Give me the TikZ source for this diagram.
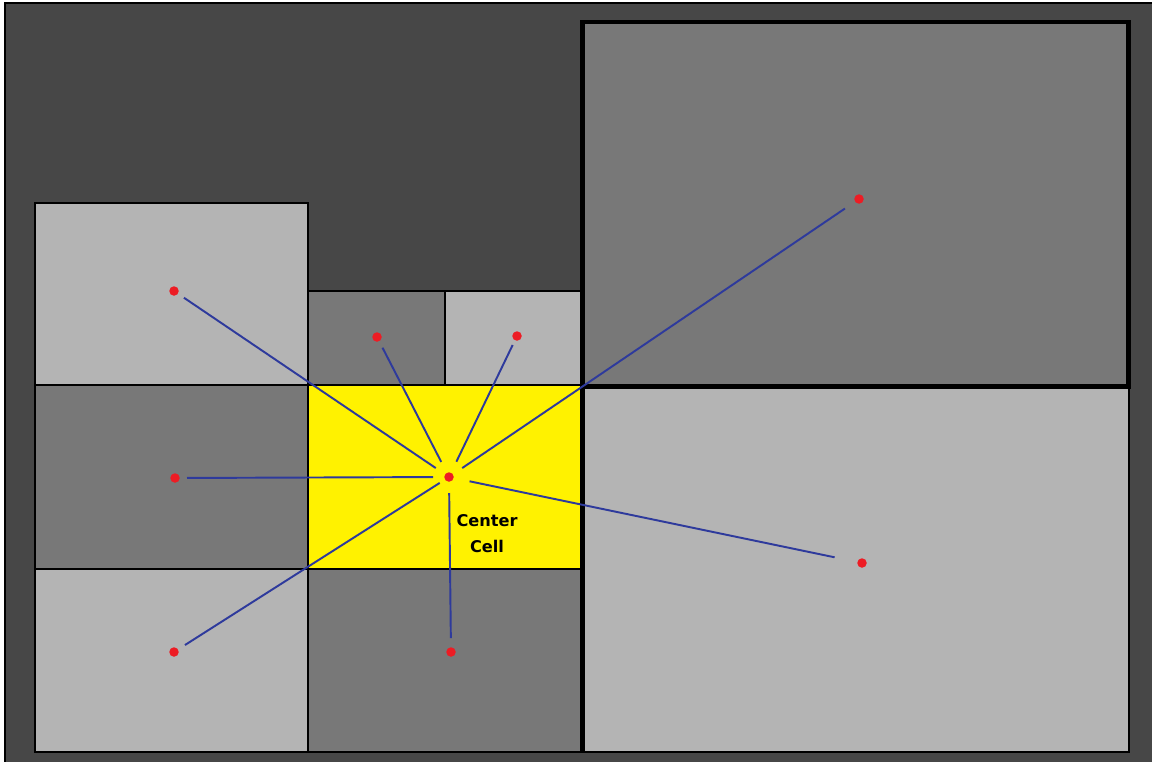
\documentclass[tikz,border=0pt]{standalone}
\usepackage{fontspec}
\setsansfont{DejaVu Sans}
\usetikzlibrary{positioning}
\definecolor{cdark}{HTML}{474747}
\definecolor{cmid}{HTML}{787878}
\definecolor{clight}{HTML}{B4B4B4}
\definecolor{cyellow}{HTML}{FFF200}
\definecolor{cred}{HTML}{ED1C24}
\definecolor{cblue}{HTML}{2E3A9C}
\tikzset{
  every picture/.style={x=0.02cm, y=-0.02cm},
  cell/.style={draw=black, fill=#1, line width=1.1pt},
  cell/.default=clight,
  bigcell/.style={draw=black, fill=#1, line width=2.6pt},
  dot/.style={circle, fill=cred, inner sep=0pt, minimum size=0.19cm},
  link/.style={draw=cblue, line width=1.1pt},
  celltext/.style={font=\sffamily\bfseries\fontsize{9.2}{14.6}\selectfont, align=center, inner sep=0pt},
}

\begin{document}
\begin{tikzpicture}
  \useasboundingbox (0,0) rectangle (1152,761);
  % frame
  \fill[white] (0,0) rectangle (1152,761);
  \draw[fill=cdark, line width=1.1pt] (5,3) rectangle (1160,770);
  % grid cells around the center
  \draw[cell] (35,203) rectangle (308,385);
  \draw[cell=cmid] (35,385) rectangle (308,569);
  \draw[cell] (35,569) rectangle (308,752);
  \draw[cell=cmid] (308,291) rectangle (445,385);
  \draw[cell] (445,291) rectangle (582,385);
  \draw[cell=cmid] (308,569) rectangle (582,752);
  \draw[cell=cyellow] (308,385) rectangle (582,569);
  \draw[cell] (584,386) rectangle (1129,752);
  \draw[bigcell=cmid] (582.5,22) rectangle (1128.5,386.5);
  \draw[line width=2.6pt] (582.5,386.5) -- (582.5,753);
  % cell centres
  \node[dot] (c) at (449,477) {};
  \node[dot] (tl) at (174,291) {};
  \node[dot] (ml) at (175,478) {};
  \node[dot] (bl) at (174,652) {};
  \node[dot] (sl) at (377,337) {};
  \node[dot] (sr) at (517,336) {};
  \node[dot] (bm) at (451,652) {};
  \node[dot] (tr) at (859,199) {};
  \node[dot] (br) at (862,563) {};
  % links to the center cell
  \foreach \p/\s/\e in {tl/12/16, sl/12/17, sr/10/17, tr/17/16, ml/12/16, bl/13/11, bm/14/16, br/28/21}
    \draw[link, shorten <=\s*0.02cm, shorten >=\e*0.02cm] (\p.center) -- (c.center);
  \node[celltext, anchor=north] (lbl) at (487,514) {Center\\Cell};
\end{tikzpicture}
\end{document}
